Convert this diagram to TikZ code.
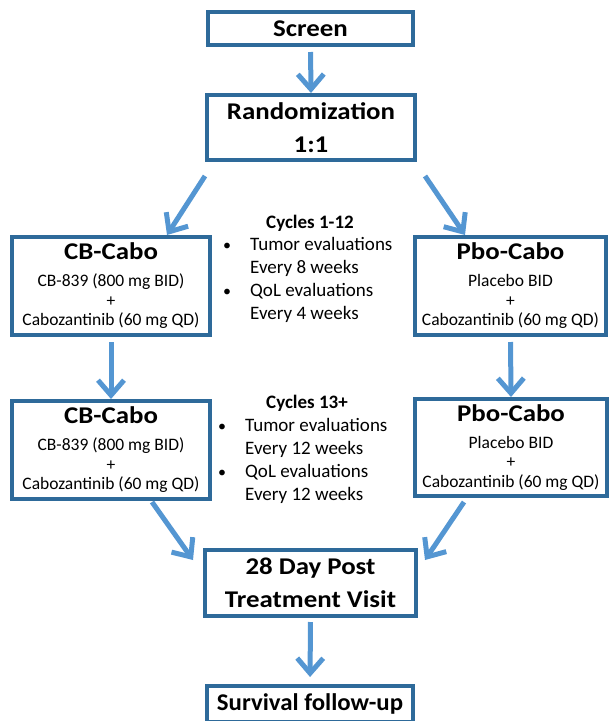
\documentclass[tikz,border=0pt]{standalone}
\usepackage{fontspec}
\setmainfont{Carlito}
\newfontfamily\ttlfont[FakeStretch=1.12]{Carlito}
\newfontfamily\survfont[FakeStretch=1.035]{Carlito}
\usetikzlibrary{arrows.meta,calc}
\definecolor{boxc}{RGB}{46,106,154}
\definecolor{arrc}{RGB}{84,150,210}
\begin{document}
\begin{tikzpicture}[x=1pt,y=-1pt,
  box/.style={draw=boxc,line width=4pt,fill=white,inner sep=0pt,align=center,text=black,
    font=\fontsize{17.5}{19.5}\selectfont},
  ttl/.style={font=\fontsize{24}{33}\selectfont\ttlfont\bfseries},
  arr/.style={draw=arrc,line width=5pt,-{Straight Barb[length=15pt,width=26pt]}},
  mtxt/.style={font=\fontsize{19}{23}\selectfont,anchor=base west,inner sep=0pt},
  mhead/.style={font=\fontsize{19}{23}\selectfont\bfseries,anchor=base,inner sep=0pt},
  bul/.style={font=\fontsize{16}{23}\selectfont,anchor=base,inner sep=0pt}
]
\useasboundingbox (0,0) rectangle (609,721);
\clip (0,0) rectangle (609,721);

% boxes
\node[box,ttl,minimum width=205pt,minimum height=33pt] (screen) at (310.5,28.5) {Screen};
\node[box,ttl,minimum width=208pt,minimum height=65pt] (rand) at (311,127.5) {Randomization\\1:1};
\node[box,minimum width=198pt,minimum height=98pt] (cb1) at (111,286)
  {{\fontsize{24}{24}\selectfont\ttlfont\bfseries CB-Cabo}\\[7.5pt]CB-839 (800 mg BID)\\+\\Cabozantinib (60 mg QD)};
\node[box,minimum width=191pt,minimum height=98pt] (pb1) at (510.5,286)
  {{\fontsize{24}{24}\selectfont\ttlfont\bfseries Pbo-Cabo}\\[7.5pt]Placebo BID\\+\\Cabozantinib (60 mg QD)};
\node[box,minimum width=198pt,minimum height=98pt] (cb2) at (111,450)
  {{\fontsize{24}{24}\selectfont\ttlfont\bfseries CB-Cabo}\\[7.5pt]CB-839 (800 mg BID)\\+\\Cabozantinib (60 mg QD)};
\node[box,minimum width=192pt,minimum height=97pt] (pb2) at (511,447.5)
  {{\fontsize{24}{24}\selectfont\ttlfont\bfseries Pbo-Cabo}\\[7.5pt]Placebo BID\\+\\Cabozantinib (60 mg QD)};
\node[box,ttl,minimum width=211pt,minimum height=66pt] (day) at (310.5,583) {28 Day Post\\Treatment Visit};
\node[box,font=\fontsize{24}{33}\selectfont\survfont\bfseries,minimum width=206pt,minimum height=36pt] (surv) at (310,704) {Survival follow-up};

% middle texts, cycles 1-12
\node[mhead] (h1) at (310,228) {Cycles 1-12};
\node[bul] (b1a) at (227,250) {•};
\node[bul] (b1b) at (227,296) {•};
\node[mtxt] (t1a) at (250,250) {Tumor evaluations};
\node[mtxt] (t1b) at (250,273) {Every 8 weeks};
\node[mtxt] (t1c) at (250,296) {QoL evaluations};
\node[mtxt] (t1d) at (250,319) {Every 4 weeks};

% cycles 13+
\node[mhead] (h2) at (307,408) {Cycles 13+};
\node[bul] (b2a) at (222,431) {•};
\node[bul] (b2b) at (222,477) {•};
\node[mtxt] (t2a) at (245,431) {Tumor evaluations};
\node[mtxt] (t2b) at (245,454) {Every 12 weeks};
\node[mtxt] (t2c) at (245,477) {QoL evaluations};
\node[mtxt] (t2d) at (245,500) {Every 12 weeks};

% arrows
\draw[arr,shorten <=5pt] (screen.south) -- (rand.north);
\draw[arr] ($(rand.south west)+(0,14)$) -- ($(cb1.north east)+(-45,0)$);
\draw[arr] ($(rand.south east)+(8,14)$) -- ($(pb1.north west)+(52,0)$);
\draw[arr,shorten <=5pt] (cb1.south) -- (cb2.north);
\draw[arr,shorten <=5pt] (pb1.south) -- (pb2.north);
\draw[arr] ($(cb2.south east)+(-60,1)$) -- ($(day.north west)+(-10,12)$);
\draw[arr] ($(pb2.south west)+(51,4)$) -- ($(day.north east)+(7,12)$);
\draw[arr,shorten <=4pt,shorten >=7pt] (day.south) -- (surv.north);
\end{tikzpicture}
\end{document}
